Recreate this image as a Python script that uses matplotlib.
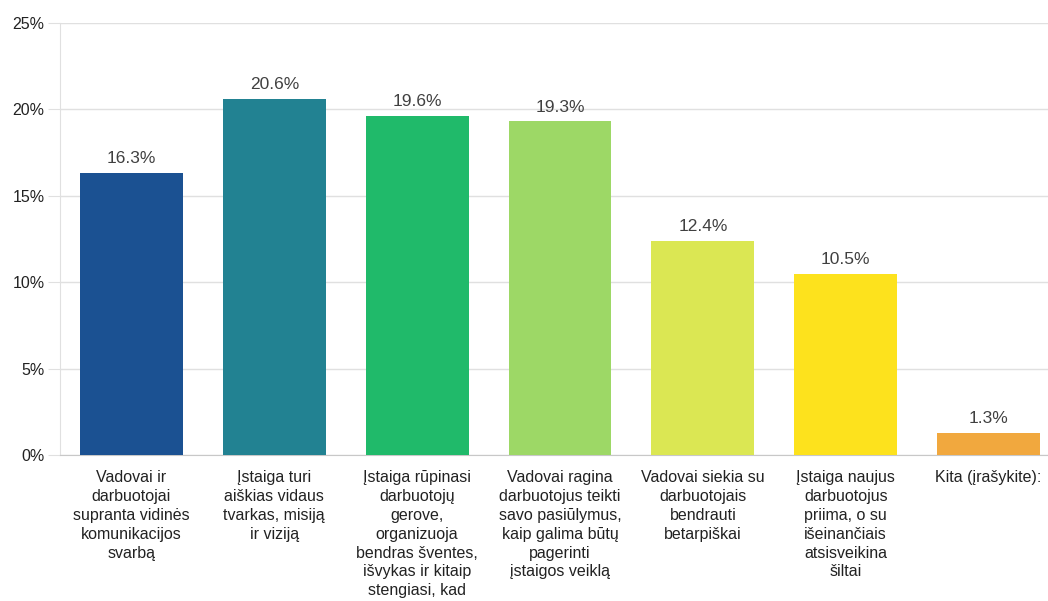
import matplotlib.pyplot as plt
from matplotlib.ticker import FuncFormatter

plt.rcParams['font.family'] = ['Liberation Sans', 'DejaVu Sans']

labels = [
    "Vadovai ir\ndarbuotojai\nsupranta vidinės\nkomunikacijos\nsvarbą",
    "Įstaiga turi\naiškias vidaus\ntvarkas, misiją\nir viziją",
    "Įstaiga rūpinasi\ndarbuotojų\ngerove,\norganizuoja\nbendras šventes,\nišvykas ir kitaip\nstengiasi, kad",
    "Vadovai ragina\ndarbuotojus teikti\nsavo pasiūlymus,\nkaip galima būtų\npagerinti\nįstaigos veiklą",
    "Vadovai siekia su\ndarbuotojais\nbendrauti\nbetarpiškai",
    "Įstaiga naujus\ndarbuotojus\npriima, o su\nišeinančiais\natsisveikina\nšiltai",
    "Kita (įrašykite):",
]
values = [16.3, 20.6, 19.6, 19.3, 12.4, 10.5, 1.3]
colors = ["#1b5192", "#228292", "#20ba6a", "#9dd866", "#dbe753", "#fde21d", "#f1a83e"]
yticks = [0, 5, 10, 15, 20, 25]

fig = plt.figure(figsize=(10.48, 6.01), dpi=100)
# axes run past the right edge, like the original
ax = fig.add_axes([60 / 1048, 1 - 455 / 601, 1000 / 1048, 432 / 601])

x = range(len(values))
bars = ax.bar(x, values, width=0.72, color=colors, zorder=3)
for b, v in zip(bars, values):
    ax.text(b.get_x() + b.get_width() / 2, v + 0.4, f"{v}%", ha='center', va='bottom',
            fontsize=12.5, color='#404040')

ax.set_xlim(-0.5, len(values) - 0.5)
ax.set_ylim(0, 25)
ax.set_yticks(yticks)
ax.yaxis.set_major_formatter(FuncFormatter(lambda v, p: f"{int(v)}%"))
ax.set_xticks(list(x))
ax.set_xticklabels(labels, fontsize=11.5, color='#222222', linespacing=1.32, va='top')
ax.tick_params(axis='x', length=0, pad=11)
ax.tick_params(axis='y', length=9, color='#e0e0e0', pad=2, labelsize=11.5, labelcolor='#222222')
ax.grid(axis='y', color='#e0e0e0', linewidth=1, zorder=0)
for s in ['top', 'right']:
    ax.spines[s].set_visible(False)
ax.spines['left'].set_color('#e0e0e0')
ax.spines['bottom'].set_color('#c8c8c8')

fig.savefig('out.png', dpi=100)
